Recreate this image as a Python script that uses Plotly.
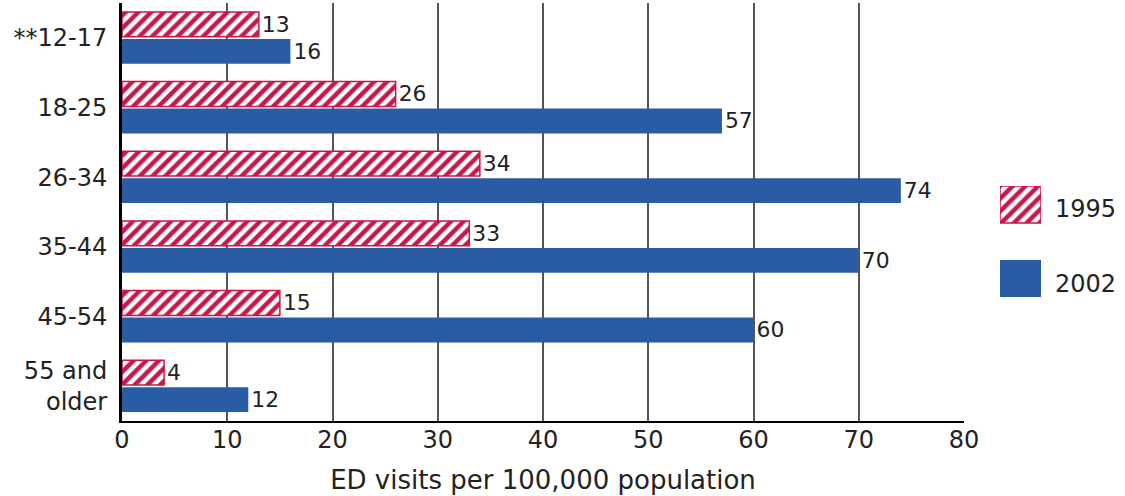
import plotly.graph_objects as go

categories = ["**12-17", "18-25", "26-34", "35-44", "45-54", "55 and<br>older"]
values_1995 = [13, 26, 34, 33, 15, 4]
values_2002 = [16, 57, 74, 70, 60, 12]
series_names = ["1995", "2002"]
x_ticks = [0, 10, 20, 30, 40, 50, 60, 70, 80]

RED = "#C8174C"
BLUE = "#2A5CA6"
FONT = "DejaVu Sans"
TXT = "#222222"

W, H = 1125, 496
ML, MR, MT, MB = 122, 10, 3, 75
pw = W - ML - MR
ph = H - MT - MB
plot_right = 964
main_dom = (plot_right - ML) / pw

def px_x(px):
    return (px - ML) / pw

def px_y(py):
    return (H - MB - py) / ph

red_pattern = dict(shape="/", fgcolor=RED, bgcolor="white", fgopacity=1, size=9, solidity=0.5, fillmode="overlay")

fig = go.Figure()
fig.add_trace(go.Bar(
    y=categories, x=values_1995, orientation="h", name=series_names[0],
    marker=dict(color="white", pattern=red_pattern, line=dict(color=RED, width=1.5)),
    text=[str(v) for v in values_1995], textposition="outside",
    textfont=dict(family=FONT, size=22, color=TXT), cliponaxis=False, showlegend=False,
))
fig.add_trace(go.Bar(
    y=categories, x=values_2002, orientation="h", name=series_names[1],
    marker=dict(color=BLUE, line=dict(width=0)),
    text=[str(v) for v in values_2002], textposition="outside",
    textfont=dict(family=FONT, size=22, color=TXT), cliponaxis=False, showlegend=False,
))

# legend swatches drawn on a separate small axis pair
fig.add_trace(go.Bar(
    x=[1], y=[2], orientation="h", width=[1], xaxis="x2", yaxis="y2",
    marker=dict(color="white", pattern=red_pattern, line=dict(color=RED, width=1.5)),
    showlegend=False, hoverinfo="skip",
))
fig.add_trace(go.Bar(
    x=[1], y=[0], orientation="h", width=[1], xaxis="x2", yaxis="y2",
    marker=dict(color=BLUE, line=dict(width=0)),
    showlegend=False, hoverinfo="skip",
))

fig.update_layout(
    width=W, height=H,
    margin=dict(l=ML, r=MR, t=MT, b=MB, autoexpand=False),
    paper_bgcolor="white", plot_bgcolor="white",
    barmode="group", bargap=0.225, bargroupgap=0.08,
    font=dict(family=FONT, color=TXT),
    xaxis=dict(
        domain=[0, main_dom], range=[0, 80], tickvals=x_ticks, automargin=False,
        showgrid=True, gridcolor="#555555", gridwidth=1.5, zeroline=False,
        showline=True, linecolor="black", linewidth=2,
        ticks="", ticklabelstandoff=-4,
        tickfont=dict(family=FONT, size=24, color=TXT),
        title=dict(text="ED visits per 100,000 population", font=dict(family=FONT, size=26, color=TXT), standoff=18),
    ),
    yaxis=dict(
        autorange="reversed", showgrid=False, zeroline=False, automargin=False,
        showline=True, linecolor="black", linewidth=3,
        ticks="", ticklabelstandoff=7,
        tickfont=dict(family=FONT, size=24, color=TXT),
    ),
    xaxis2=dict(domain=[px_x(1000), px_x(1041)], range=[0, 1], visible=False, fixedrange=True, anchor="y2"),
    yaxis2=dict(domain=[px_y(297), px_y(186)], range=[-0.5, 2.5], visible=False, fixedrange=True, anchor="x2"),
    annotations=[
        dict(x=px_x(1053), y=px_y(209), xref="paper", yref="paper", text=series_names[0],
             showarrow=False, xanchor="left", yanchor="middle", font=dict(family=FONT, size=24, color=TXT)),
        dict(x=px_x(1053), y=px_y(284), xref="paper", yref="paper", text=series_names[1],
             showarrow=False, xanchor="left", yanchor="middle", font=dict(family=FONT, size=24, color=TXT)),
    ],
)

fig.write_html("out.html")
